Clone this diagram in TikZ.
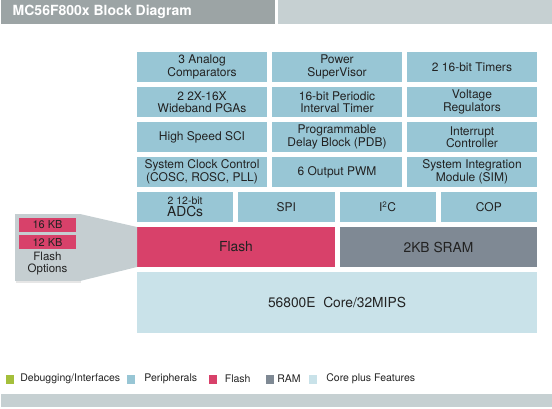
\documentclass[tikz,border=0pt]{standalone}
\usepackage{fontspec}
\setmainfont{TeX Gyre Heros}
\usetikzlibrary{positioning}
\usetikzlibrary{shadows}
\definecolor{peri}{HTML}{98C6D5}
\definecolor{flash}{HTML}{D8416A}
\definecolor{ram}{HTML}{7F8994}
\definecolor{core}{HTML}{C9E2E9}
\definecolor{dbg}{HTML}{A4BF3B}
\definecolor{ttldark}{HTML}{9CA4A5}
\definecolor{ttllight}{HTML}{C6D0D2}
\definecolor{optgray}{HTML}{C5CED1}
\definecolor{blktext}{HTML}{222222}

\begin{document}
\begin{tikzpicture}[
  x=1pt,y=-1pt,
  blk/.style={
    rectangle,
    fill=#1,
    inner sep=0pt,
    outer sep=0pt,
    align=center,
    text=blktext,
    anchor=north west,
    font=\fontsize{12}{12.5}\selectfont},
  cellthree/.style={minimum width=130pt, minimum height=30pt},
  cellfour/.style={minimum width=96.25pt, minimum height=30pt},
  big/.style={font=\fontsize{13.8}{14}\selectfont},
  bar/.style={
    rectangle,
    fill=#1,
    inner sep=0pt,
    outer sep=0pt,
    anchor=north west},
  legsq/.style={
    rectangle,
    fill=#1,
    inner sep=0pt,
    minimum width=8pt,
    minimum height=9pt},
  legtxt/.style={
    inner sep=0pt,
    anchor=west,
    text=blktext,
    font=\fontsize{10.5}{12}\selectfont},
]

  \def\lx{137}%
  \def\colstep{135}%
  \def\qstep{101.25}%
  \def\rowtop{52}%
  \def\rowstep{35}%

  \useasboundingbox (0,0) rectangle (552,408);

    % Title bar
  \node[bar={ttldark}, minimum width=274pt, minimum height=24pt] (ttl) at (1,0) {};
  \node[bar={ttllight}, minimum width=274pt, minimum height=24pt] (ttlr) at (278,0) {};
  \node[anchor=west, inner sep=0pt, text=white, font=\fontsize{14}{16}\selectfont\bfseries] (ttltext) at (12.5,12) {MC56F800x Block Diagram};

    % Peripherals
  \foreach \txt [count=\col] in {{3 Analog\\Comparators}, {Power\\SuperVisor}, {2 16-bit Timers}} {
    \node[blk={peri}, cellthree] (pa\col) at (\lx+\col*\colstep-\colstep, \rowtop) {\txt};
  }
  \foreach \txt [count=\col] in {{2 2X-16X\\Wideband PGAs}, {16-bit Periodic\\Interval Timer}, {Voltage\\Regulators}} {
    \node[blk={peri}, cellthree] (pb\col) at (\lx+\col*\colstep-\colstep, \rowtop+\rowstep) {\txt};
  }
  \foreach \txt [count=\col] in {{High Speed SCI}, {Programmable\\Delay Block (PDB)}, {Interrupt\\Controller}} {
    \node[blk={peri}, cellthree] (pc\col) at (\lx+\col*\colstep-\colstep, \rowtop+2*\rowstep) {\txt};
  }
  \foreach \txt [count=\col] in {{System Clock Control\\(COSC, ROSC, PLL)}, {6 Output PWM}, {System Integration\\Module (SIM)}} {
    \node[blk={peri}, cellthree] (pd\col) at (\lx+\col*\colstep-\colstep, \rowtop+3*\rowstep) {\txt};
  }
  \foreach \txt [count=\col] in {{{\fontsize{10.5}{11}\selectfont 2 12-bit}\\{\fontsize{13.8}{13}\selectfont ADCs}}, {SPI}, {I\textsuperscript{2}C}, {COP}} {
    \node[blk={peri}, cellfour] (pe\col) at (\lx+\col*\qstep-\qstep, \rowtop+4*\rowstep) {\txt};
  }

    % Memory and core
  \node[blk={flash}, big, minimum width=198pt, minimum height=40pt] (flash) at (\lx, 227) {Flash};
  \node[blk={ram}, big, minimum width=197pt, minimum height=40pt] (sram) at (340, 227) {2KB SRAM};
  \node[blk={core}, big, minimum width=400pt, minimum height=61pt] (core) at (\lx, 272) {56800E\ \ Core/32MIPS};

    % Flash options
  \node[bar={optgray}, minimum width=65pt, minimum height=67pt,
        drop shadow={opacity=0.2, shadow xshift=1pt, shadow yshift=-1.5pt}] (opts) at (15,214) {};
  \fill[optgray] (opts.north east) -- (flash.north west) -- (flash.south west) -- (opts.south east) -- cycle;
  \node[blk={flash}, minimum width=57pt, minimum height=14pt, anchor=north, font=\fontsize{11}{12}\selectfont] (kbhi) at (47.5,218) {16 KB};
  \node[blk={flash}, minimum width=57pt, minimum height=14pt, anchor=north, font=\fontsize{11}{12}\selectfont] (kblo) at (47.5,235) {12 KB};
  \node[align=center, inner sep=0pt, text=blktext, font=\fontsize{11.5}{12}\selectfont, below=3pt of kblo] (optstext) {Flash\\Options};

    % Legend
  \node[legsq={dbg}] (lg1) at (9.5,379) {};
  \node[legtxt, right=6.5pt of lg1] (lt1) {Debugging/Interfaces};
  \node[legsq={peri}] (lg2) at (131,379) {};
  \node[legtxt, right=9pt of lg2] (lt2) {Peripherals};
  \node[legsq={flash}] (lg3) at (212.5,379) {};
  \node[legtxt, right=8pt of lg3] (lt3) {Flash};
  \node[legsq={ram}] (lg4) at (269.5,379) {};
  \node[legtxt, right=3.5pt of lg4] (lt4) {RAM};
  \node[legsq={core}] (lg5) at (313,379) {};
  \node[legtxt, right=9pt of lg5] (lt5) {Core plus Features};

    % Bottom bar
  \node[bar={ttllight}, minimum width=551pt, minimum height=13pt] (foot) at (1,394) {};

\end{tikzpicture}
\end{document}
